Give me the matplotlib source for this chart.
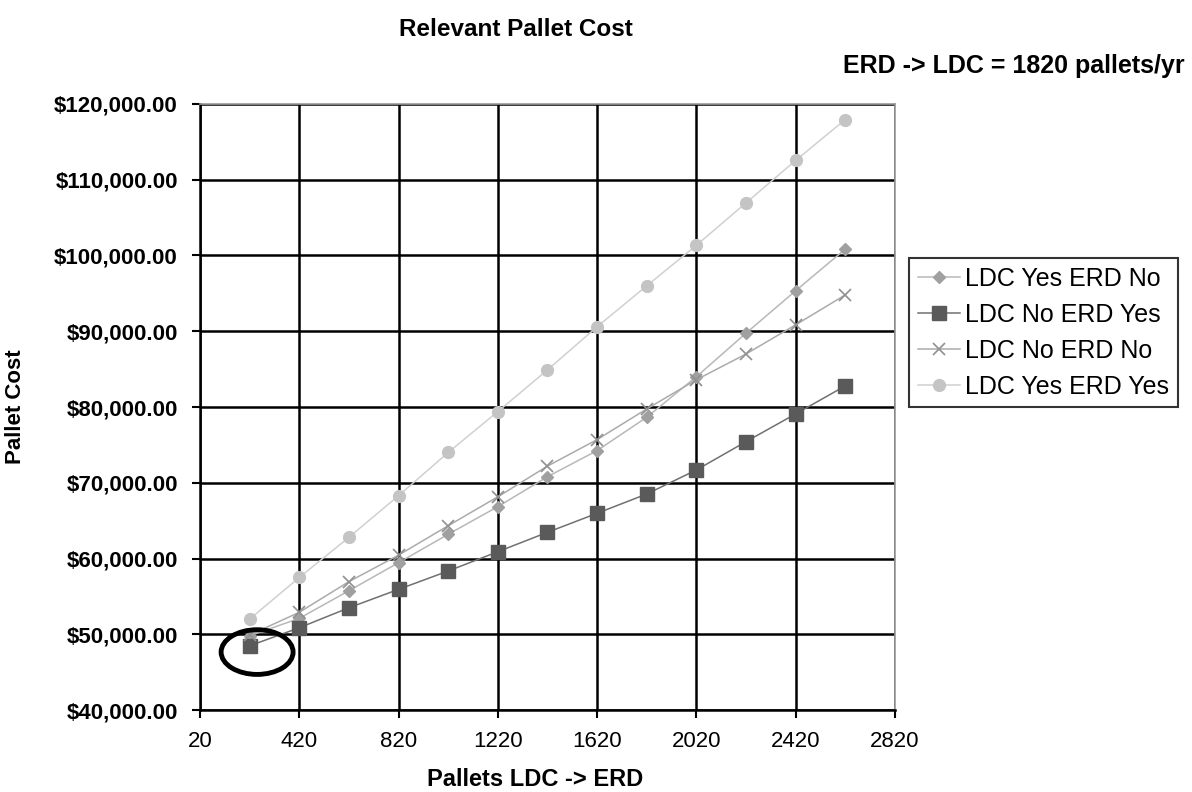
import numpy as np
import matplotlib
matplotlib.use('Agg')
import matplotlib.pyplot as plt
from matplotlib.patches import Ellipse
from matplotlib.ticker import FuncFormatter

plt.rcParams['font.family'] = ['Liberation Sans', 'DejaVu Sans']

# Pallets LDC -> ERD
pallets = [220, 420, 620, 820, 1020, 1220, 1420, 1620, 1820, 2020, 2220, 2420, 2620]

# Pallet cost per scenario
ldc_yes_erd_no = [49800, 52100, 55750, 59450, 63200, 66850, 70800, 74250, 78650, 84000, 89750, 95350, 100850]
ldc_no_erd_yes = [48480, 50860, 53500, 55930, 58350, 60900, 63460, 65970, 68520, 71690, 75430, 79090, 82790]
ldc_no_erd_no = [49900, 52900, 56950, 60450, 64330, 68150, 72200, 75700, 79750, 83600, 87000, 90850, 94800]
ldc_yes_erd_yes = [52000, 57500, 62800, 68300, 74000, 79400, 84900, 90600, 96000, 101350, 106950, 112550, 117950]

x_ticks = [20, 420, 820, 1220, 1620, 2020, 2420, 2820]
y_ticks = [40000, 50000, 60000, 70000, 80000, 90000, 100000, 110000, 120000]

fig = plt.figure(figsize=(11.92, 7.92), dpi=100)
ax = fig.add_axes([0.1678, 0.1035, 0.583, 0.7652])

ax.plot(pallets, ldc_yes_erd_no, color='#b8b8b8', lw=1.1, marker='D', ms=6.5,
        mfc='#a0a0a0', mec='#a0a0a0', label='LDC Yes ERD No')
ax.plot(pallets, ldc_no_erd_yes, color='#707070', lw=1.1, marker='s', ms=10,
        mfc='#5a5a5a', mec='#5a5a5a', label='LDC No ERD Yes')
ax.plot(pallets, ldc_no_erd_no, color='#ababab', lw=1.1, marker='x', ms=8,
        mew=1.2, mec='#909090', label='LDC No ERD No')
ax.plot(pallets, ldc_yes_erd_yes, color='#d0d0d0', lw=1.1, marker='o', ms=8.5,
        mfc='#c4c4c4', mec='#c4c4c4', label='LDC Yes ERD Yes')

# circle around the starting point
ax.add_patch(Ellipse((pallets[0] + 30, ldc_no_erd_yes[0] - 830), 290, 5900,
                     fill=False, ec='black', lw=3.5, zorder=5))

ax.set_xlim(20, 2820)
ax.set_ylim(40000, 120000)
ax.set_xticks(x_ticks)
ax.set_yticks(y_ticks)
ax.yaxis.set_major_formatter(FuncFormatter(lambda v, p: f'${v:,.2f}'))
ax.grid(True, color='black', lw=1.8)
ax.set_axisbelow(True)
ax.tick_params(axis='both', direction='out', length=6, width=1.5, labelsize=16)
for lbl in ax.get_yticklabels():
    lbl.set_fontweight('bold')
ax.tick_params(axis='x', pad=9)
ax.tick_params(axis='y', pad=10)
for s in ['left', 'bottom']:
    ax.spines[s].set_linewidth(1.8)
for s in ['top', 'right']:
    ax.spines[s].set_color('#9a9a9a')
    ax.spines[s].set_linewidth(1.2)

ax.set_xlabel('Pallets LDC -> ERD', fontsize=17, fontweight='bold', labelpad=14)
ax.xaxis.set_label_coords(0.482, -0.095)
ax.set_ylabel('Pallet Cost', fontsize=16, fontweight='bold', labelpad=20)
fig.text(0.433, 0.963, 'Relevant Pallet Cost', fontsize=17.5, fontweight='bold',
         ha='center', va='center')
fig.text(0.994, 0.917, 'ERD -> LDC = 1820 pallets/yr', fontsize=18,
         fontweight='bold', ha='right', va='center')

leg = ax.legend(loc='upper left', bbox_to_anchor=(1.02, 0.746), fontsize=18,
                frameon=True, fancybox=False, handlelength=1.7,
                handletextpad=0.2, borderpad=0.35, labelspacing=0.48,
                borderaxespad=0)
leg.get_frame().set_edgecolor('black')
leg.get_frame().set_linewidth(1.5)

fig.savefig('out.png', dpi=100)
